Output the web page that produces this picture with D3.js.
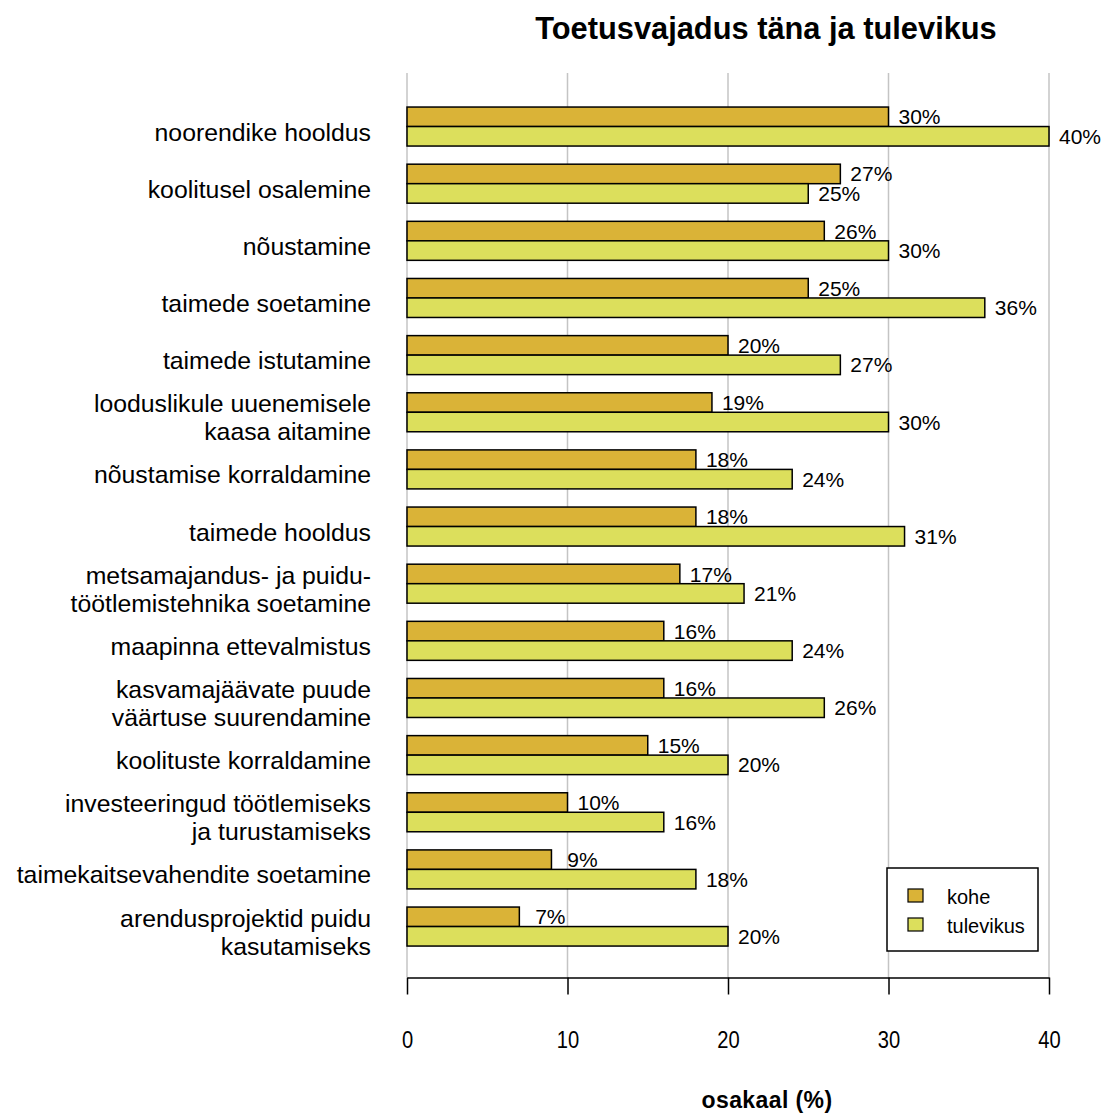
<!DOCTYPE html>
<html>
<head>
<meta charset="utf-8">
<script src="https://cdn.jsdelivr.net/npm/d3@7"></script>
<style>
  body { margin: 0; background: #fff; }
  text { font-family: "Liberation Sans", Arial, sans-serif; fill: #000; }
</style>
</head>
<body>
<div id="chart"></div>
<script>
const categories = [
  ["noorendike hooldus"],
  ["koolitusel osalemine"],
  ["nõustamine"],
  ["taimede soetamine"],
  ["taimede istutamine"],
  ["looduslikule uuenemisele", "kaasa aitamine"],
  ["nõustamise korraldamine"],
  ["taimede hooldus"],
  ["metsamajandus- ja puidu-", "töötlemistehnika soetamine"],
  ["maapinna ettevalmistus"],
  ["kasvamajäävate puude", "väärtuse suurendamine"],
  ["koolituste korraldamine"],
  ["investeeringud töötlemiseks", "ja turustamiseks"],
  ["taimekaitsevahendite soetamine"],
  ["arendusprojektid puidu", "kasutamiseks"]
];
const kohe = [30, 27, 26, 25, 20, 19, 18, 18, 17, 16, 16, 15, 10, 9, 7];
const tulevikus = [40, 25, 30, 36, 27, 30, 24, 31, 21, 24, 26, 20, 16, 18, 20];
const seriesNames = ["kohe", "tulevikus"];
const xTicks = [0, 10, 20, 30, 40];

const width = 1104, height = 1115;
const colors = { kohe: "#dab337", tulevikus: "#dcdf5c" };

const svg = d3.select("#chart").append("svg")
  .attr("width", width)
  .attr("height", height);

const x = d3.scaleLinear().domain([0, 40]).range([407, 1049]);

const y = d3.scaleBand()
  .domain(d3.range(categories.length))
  .range([88.9, 964.2])
  .padding(0.3175);

const ySub = d3.scaleBand()
  .domain(seriesNames)
  .range([0, y.bandwidth()]);

const rows = categories.map((c, i) => ({ i, lines: c, kohe: kohe[i], tulevikus: tulevikus[i] }));

// gridlines
svg.append("g")
  .selectAll("line")
  .data(xTicks)
  .join("line")
  .attr("x1", d => x(d))
  .attr("x2", d => x(d))
  .attr("y1", 73)
  .attr("y2", 977)
  .attr("stroke", "#c4c4c4")
  .attr("stroke-width", 1.5);

// bars
const groups = svg.append("g")
  .selectAll("g")
  .data(rows)
  .join("g")
  .attr("transform", d => `translate(0,${y(d.i)})`);

groups.selectAll("rect")
  .data(d => seriesNames.map(s => ({ s, v: d[s] })))
  .join("rect")
  .attr("x", x(0))
  .attr("y", d => ySub(d.s))
  .attr("width", d => x(d.v) - x(0))
  .attr("height", ySub.bandwidth())
  .attr("fill", d => colors[d.s])
  .attr("stroke", "#000")
  .attr("stroke-width", 1.5);

groups.selectAll("text.val")
  .data(d => seriesNames.map(s => ({ s, v: d[s] })))
  .join("text")
  .attr("class", "val")
  .attr("x", d => x(d.v) + 31)
  .attr("y", d => ySub(d.s) + ySub.bandwidth() / 2)
  .attr("dy", "0.36em")
  .attr("text-anchor", "middle")
  .style("font-size", "21px")
  .text(d => d.v + "%");

// category labels
const labels = svg.append("g")
  .selectAll("text")
  .data(rows)
  .join("text")
  .attr("text-anchor", "end")
  .style("font-size", "24.8px")
  .attr("transform", d => `translate(371,${y(d.i) + y.bandwidth() / 2})`);

labels.selectAll("tspan")
  .data(d => d.lines.map((t, k) => ({ t, k, n: d.lines.length })))
  .join("tspan")
  .attr("x", 0)
  .attr("y", d => d.n === 1 ? 14 : d.k * 28)
  .text(d => d.t);

// x axis
const axis = svg.append("g")
  .attr("transform", "translate(0,977.5)")
  .call(d3.axisBottom(x).tickValues(xTicks).tickSizeInner(17).tickSizeOuter(0).tickPadding(36));

axis.select(".domain").attr("stroke", "#000").attr("stroke-width", 1.5);
axis.selectAll(".tick line").attr("stroke", "#000").attr("stroke-width", 1.5);
axis.selectAll(".tick text")
  .style("font-family", "'Liberation Sans', Arial, sans-serif")
  .style("font-size", "24px")
  .attr("transform", "scale(0.84,1)")
  .attr("fill", "#000");

// title
svg.append("text")
  .attr("x", 766)
  .attr("y", 39)
  .attr("text-anchor", "middle")
  .style("font-size", "30.8px")
  .style("font-weight", "bold")
  .text("Toetusvajadus täna ja tulevikus");

svg.append("text")
  .attr("x", 767)
  .attr("y", 1108)
  .attr("text-anchor", "middle")
  .style("font-size", "23px")
  .style("font-weight", "bold")
  .style("letter-spacing", "0.4px")
  .text("osakaal (%)");

// legend
const legend = svg.append("g").attr("transform", "translate(887,868)");
legend.append("rect")
  .attr("width", 151)
  .attr("height", 83)
  .attr("fill", "#fff")
  .attr("stroke", "#000")
  .attr("stroke-width", 1.5);

const li = legend.selectAll("g.item")
  .data(seriesNames)
  .join("g")
  .attr("class", "item")
  .attr("transform", (d, i) => `translate(21,${21 + i * 29})`);

li.append("rect")
  .attr("width", 15)
  .attr("height", 13)
  .attr("fill", d => colors[d])
  .attr("stroke", "#000")
  .attr("stroke-width", 1.2);

li.append("text")
  .attr("x", 39)
  .attr("y", 15)
  .style("font-size", "20px")
  .text(d => d);
</script>
</body>
</html>
